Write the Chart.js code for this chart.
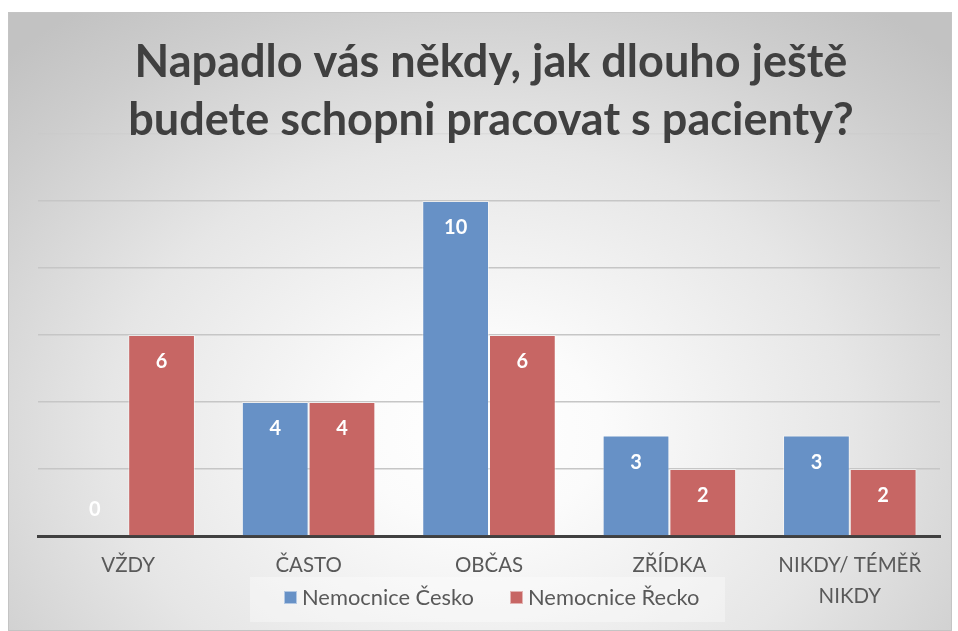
<!DOCTYPE html>
<html>
<head>
<meta charset="utf-8">
<script src="https://cdn.jsdelivr.net/npm/chart.js@4/dist/chart.umd.min.js"></script>
<style>
  html, body { margin: 0; padding: 0; background: #ffffff; overflow: hidden; }
  #wrap {
    position: absolute; left: 8px; top: 12px; width: 944px; height: 619px;
    box-sizing: border-box; border: 1px solid #c4c4c4;
    background: radial-gradient(ellipse 72% 85% at 50% 68%, #ffffff 0%, #fbfbfb 18%, #e6e6e6 55%, #cdcdcd 85%, #c2c2c2 100%);
  }
  canvas { display: block; }
</style>
</head>
<body>
<div id="wrap"><canvas id="c" width="942" height="617"></canvas></div>
<script>
const titleLines = ['Napadlo vás někdy, jak dlouho ještě', 'budete schopni pracovat s pacienty?'];
const categories = ['VŽDY', 'ČASTO', 'OBČAS', 'ZŘÍDKA', ['NIKDY/ TÉMĚŘ', 'NIKDY']];
const seriesNames = ['Nemocnice Česko', 'Nemocnice Řecko'];
const valuesCesko = [0, 4, 10, 3, 3];
const valuesRecko = [6, 4, 6, 2, 2];
const yTicks = [0, 2, 4, 6, 8, 10, 12];

const BLUE = '#6791c6';
const RED = '#c76664';
const FAMILY = 'Lato, "Open Sans", sans-serif';

const mctx = document.createElement('canvas').getContext('2d');
function fitSize(text, weight, target) {
  mctx.font = weight + ' 100px ' + FAMILY;
  const w = mctx.measureText(text).width;
  return 100 * target / w;
}
const titleSize = fitSize(titleLines[0], 'bold', 713);
const tickSize = fitSize('NIKDY/ TÉMĚŘ', 'normal', 143);
const legendSize = fitSize(seriesNames[0], 'normal', 172);

const OX = 9, OY = 13; // page offset of canvas

const titlePlugin = {
  id: 'titleDraw',
  afterDraw(chart) {
    const ctx = chart.ctx;
    ctx.save();
    ctx.fillStyle = '#404040';
    ctx.font = 'bold ' + titleSize + 'px ' + FAMILY;
    ctx.textAlign = 'center';
    ctx.textBaseline = 'alphabetic';
    ctx.fillText(titleLines[0], 491 - OX, 77 - OY);
    ctx.fillText(titleLines[1], 491 - OX, 135 - OY);
    ctx.restore();
  }
};

const labelPlugin = {
  id: 'valueLabels',
  afterDatasetsDraw(chart) {
    const ctx = chart.ctx;
    ctx.save();
    ctx.fillStyle = '#ffffff';
    ctx.font = 'bold 20px ' + FAMILY;
    ctx.textAlign = 'center';
    ctx.textBaseline = 'middle';
    chart.data.datasets.forEach((ds, i) => {
      const meta = chart.getDatasetMeta(i);
      meta.data.forEach((bar, j) => {
        const v = ds.data[j];
        const y = v === 0 ? bar.base - 26 : bar.y + 27;
        ctx.fillText(String(v), bar.x, y);
      });
    });
    ctx.restore();
  }
};

const legendPlugin = {
  id: 'legendDraw',
  afterDraw(chart) {
    const ctx = chart.ctx;
    ctx.save();
    ctx.fillStyle = 'rgba(255,255,255,0.35)';
    ctx.fillRect(250 - OX, 577 - OY, 475, 45);
    ctx.font = legendSize + 'px ' + FAMILY;
    ctx.textBaseline = 'middle';
    ctx.textAlign = 'left';
    const items = [
      { x: 284, color: BLUE, text: seriesNames[0] },
      { x: 510, color: RED, text: seriesNames[1] }
    ];
    items.forEach(it => {
      ctx.fillStyle = it.color;
      ctx.fillRect(it.x - OX, 591 - OY, 13, 13);
      ctx.strokeStyle = 'rgba(255,255,255,0.5)';
      ctx.lineWidth = 1;
      ctx.strokeRect(it.x - OX + 0.5, 591 - OY + 0.5, 12, 12);
      ctx.fillStyle = '#595959';
      ctx.fillText(it.text, it.x + 18 - OX, 598 - OY);
    });
    ctx.restore();
  }
};

new Chart(document.getElementById('c'), {
  type: 'bar',
  data: {
    labels: categories,
    datasets: [
      { label: seriesNames[0], data: valuesCesko, backgroundColor: BLUE, borderColor: 'rgba(255,255,255,0.45)', borderWidth: 1 },
      { label: seriesNames[1], data: valuesRecko, backgroundColor: RED, borderColor: 'rgba(255,255,255,0.45)', borderWidth: 1 }
    ]
  },
  options: {
    responsive: false,
    animation: false,
    events: [],
    layout: { padding: { left: 38 - OX, right: 942 - (940 - OX), top: 134 - OY, bottom: 0 } },
    plugins: { legend: { display: false }, title: { display: false }, tooltip: { enabled: false } },
    datasets: { bar: { categoryPercentage: 0.74, barPercentage: 1.0 } },
    scales: {
      x: {
        grid: { display: false, drawTicks: false },
        border: { display: true, color: '#404040', width: 3 },
        ticks: {
          color: '#595959',
          font: { family: FAMILY, size: tickSize, lineHeight: 31 / tickSize },
          padding: 14,
          maxRotation: 0,
          autoSkip: false
        },
        afterFit(scale) { scale.height = 617 - (536 - OY); }
      },
      y: {
        min: 0, max: 12,
        afterBuildTicks(scale) { scale.ticks = yTicks.map(v => ({ value: v })); },
        ticks: { display: false },
        grid: {
          drawTicks: false,
          color: ctx => (ctx.tick && ctx.tick.value === 12) ? 'rgba(200,200,200,0.3)' : '#c6c6c6',
          lineWidth: 1.5
        },
        border: { display: false },
        afterFit(scale) { scale.width = 0; }
      }
    }
  },
  plugins: [titlePlugin, labelPlugin, legendPlugin]
});
</script>
</body>
</html>
